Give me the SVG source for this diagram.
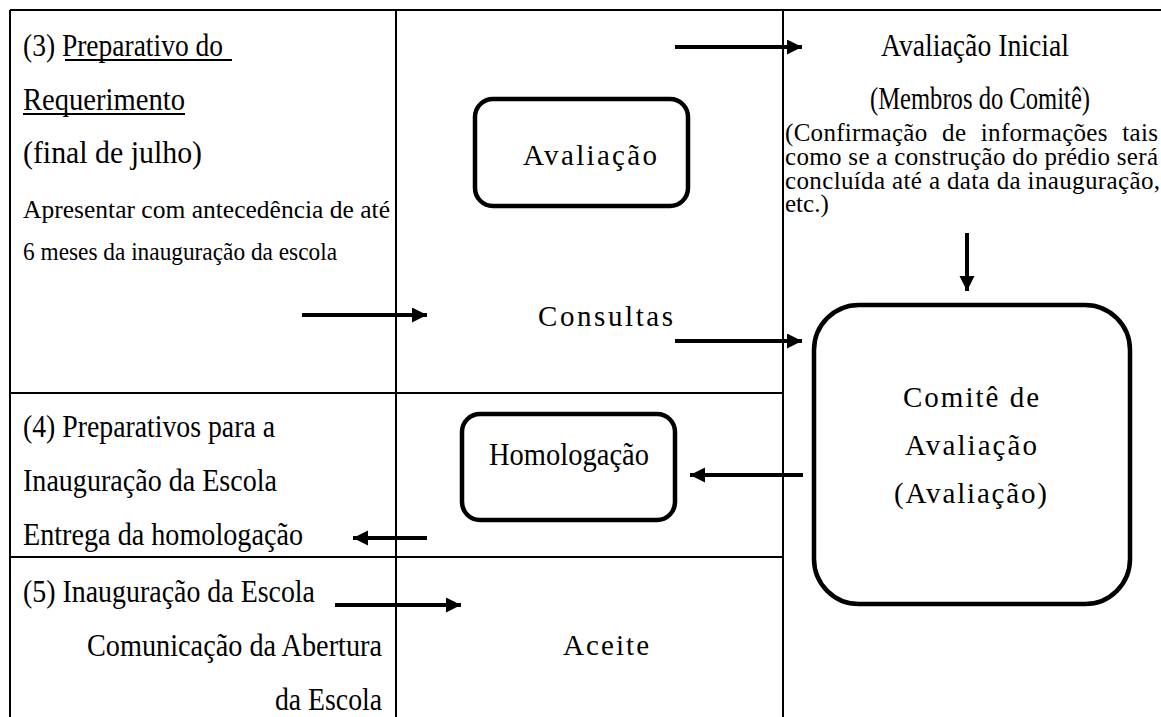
<svg xmlns="http://www.w3.org/2000/svg" width="1161" height="717" viewBox="0 0 1161 717">
<style>
.grid{stroke:#000;stroke-width:2;fill:none}
.box{fill:#fff;stroke:#000;stroke-width:4.5}
text{font-family:'Liberation Serif','Times New Roman',serif;fill:#000}
.t{font-size:31px}
.s{font-size:26px}
.r{font-size:25px}
.w{font-size:29px}
.ar{stroke:#000;stroke-width:4;fill:none;marker-end:url(#ah)}
.ul{stroke:#000;stroke-width:2}
</style>
<defs>
<marker id="ah" markerUnits="userSpaceOnUse" markerWidth="16" markerHeight="16" refX="15" refY="7.5" orient="auto">
<path d="M0,0 L15,7.5 L0,15 Z" fill="#000"/>
</marker>
</defs>
<rect width="1161" height="717" fill="#fff"/>
<g id="table">
<line class="grid" x1="10" y1="10" x2="1161" y2="10"/>
<line class="grid" x1="10" y1="10" x2="10" y2="717"/>
<line class="grid" x1="396" y1="10" x2="396" y2="717"/>
<line class="grid" x1="783" y1="10" x2="783" y2="717"/>
<line class="grid" x1="10" y1="393" x2="783" y2="393"/>
<line class="grid" x1="10" y1="557" x2="783" y2="557"/>
</g>
<g id="step3">
<text class="t" x="23" y="56" textLength="200" lengthAdjust="spacingAndGlyphs">(3) Preparativo do</text>
<line class="ul" x1="65" y1="60" x2="232" y2="60"/>
<text class="t" x="23" y="110" textLength="162" lengthAdjust="spacingAndGlyphs">Requerimento</text>
<line class="ul" x1="23" y1="114" x2="185" y2="114"/>
<text class="t" x="23" y="163" textLength="179" lengthAdjust="spacingAndGlyphs">(final de julho)</text>
<text class="s" x="23" y="218" textLength="367" lengthAdjust="spacingAndGlyphs">Apresentar com antecedência de até</text>
<text class="s" x="23" y="260" textLength="314" lengthAdjust="spacingAndGlyphs">6 meses da inauguração da escola</text>
</g>
<g id="step4">
<text class="t" x="23" y="437" textLength="252" lengthAdjust="spacingAndGlyphs">(4) Preparativos para a</text>
<text class="t" x="23" y="491" textLength="254" lengthAdjust="spacingAndGlyphs">Inauguração da Escola</text>
<text class="t" x="23" y="545" textLength="280" lengthAdjust="spacingAndGlyphs">Entrega da homologação</text>
</g>
<g id="step5">
<text class="t" x="23" y="602" textLength="292" lengthAdjust="spacingAndGlyphs">(5) Inauguração da Escola</text>
<text class="t" x="87" y="656" textLength="295" lengthAdjust="spacingAndGlyphs">Comunicação da Abertura</text>
<text class="t" x="275" y="710" textLength="107" lengthAdjust="spacingAndGlyphs">da Escola</text>
</g>
<g id="avaliacao">
<rect class="box" x="475" y="99" width="213" height="107" rx="18"/>
<text class="w" x="523" y="165" textLength="134">Avaliação</text>
</g>
<g id="consultas">
<text class="w" x="538" y="326" textLength="135">Consultas</text>
</g>
<g id="homologacao">
<rect class="box" x="462" y="414" width="213" height="106" rx="18"/>
<text class="t" x="489" y="465" textLength="160" lengthAdjust="spacingAndGlyphs">Homologação</text>
</g>
<g id="aceite">
<text class="w" x="563" y="655" textLength="86">Aceite</text>
</g>
<g id="avaliacao-inicial">
<text class="t" x="881" y="56" textLength="188" lengthAdjust="spacingAndGlyphs">Avaliação Inicial</text>
<text class="t" x="870" y="109" textLength="220" lengthAdjust="spacingAndGlyphs">(Membros do Comitê)</text>
<text class="r" x="785" y="141" word-spacing="8" textLength="373">(Confirmação de informações tais</text>
<text class="r" x="785" y="165" textLength="373">como se a construção do prédio será</text>
<text class="r" x="785" y="189" textLength="375">concluída até a data da inauguração,</text>
<text class="r" x="785" y="212">etc.)</text>
</g>
<g id="comite">
<rect class="box" x="814" y="305" width="316" height="299" rx="45"/>
<text class="w" x="903" y="407" textLength="136">Comitê de</text>
<text class="w" x="905" y="455" textLength="132">Avaliação</text>
<text class="w" x="894" y="503" textLength="153">(Avaliação)</text>
</g>
<g id="connectors">
<line class="ar" x1="675" y1="47" x2="802" y2="47"/>
<line class="ar" x1="967" y1="233" x2="967" y2="291"/>
<line class="ar" x1="302" y1="315" x2="427" y2="315"/>
<line class="ar" x1="675" y1="341" x2="802" y2="341"/>
<line class="ar" x1="803" y1="475" x2="690" y2="475"/>
<line class="ar" x1="427" y1="538" x2="353" y2="538"/>
<line class="ar" x1="335" y1="605" x2="461" y2="605"/>
</g>
</svg>
